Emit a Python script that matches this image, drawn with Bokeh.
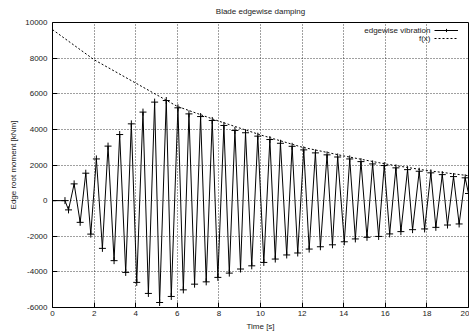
from bokeh.plotting import figure
from bokeh.models import Legend, LegendItem, Label, Title
from bokeh.embed import file_html
from bokeh.resources import INLINE
from bokeh.core.properties import value

FONT = "Liberation Sans"

# edgewise vibration: read extremes (time [s], moment [kNm])
time_s = [0.00, 0.60, 0.77, 1.04, 1.33, 1.60, 1.84, 2.11, 2.40, 2.67,
          2.96, 3.23, 3.52, 3.79, 4.05, 4.35, 4.61, 4.91, 5.15, 5.47,
          5.71, 6.03, 6.29, 6.56, 6.83, 7.12, 7.39, 7.68, 7.95, 8.24,
          8.50, 8.77, 9.04, 9.28, 9.58, 9.87, 10.16, 10.45, 10.71, 10.96,
          11.26, 11.52, 11.79, 12.08, 12.34, 12.64, 12.88, 13.20, 13.46, 13.71,
          14.03, 14.29, 14.56, 14.83, 15.12, 15.39, 15.68, 15.95, 16.21, 16.51,
          16.75, 17.07, 17.31, 17.63, 17.89, 18.19, 18.43, 18.74, 18.99, 19.28,
          19.55, 19.84, 20.00]
moment_knm = [0, 0, -520, 940, -1220, 1540, -1880, 2340, -2680, 3060,
              -3370, 3710, -4030, 4310, -4590, 4970, -5210, 5530, -5720, 5620,
              -5380, 5210, -5010, 4870, -4690, 4720, -4560, 4500, -4310, 4220,
              -4070, 3940, -3840, 3810, -3660, 3620, -3470, 3430, -3280, 3220,
              -3050, 3050, -2940, 2850, -2720, 2680, -2590, 2570, -2480, 2450,
              -2310, 2340, -2150, 2190, -2060, 2060, -2010, 1970, -1870, 1840,
              -1740, 1740, -1630, 1650, -1590, 1560, -1500, 1460, -1370, 1350,
              -1310, 1280, 400]

# f(x) envelope
fx_t = [0, 2, 4, 6, 8, 10, 12, 14, 16, 18, 20]
fx_val = [9600, 7910, 6600, 5290, 4460, 3690, 3000, 2510, 2060, 1690, 1400]

x_ticks = [0, 2, 4, 6, 8, 10, 12, 14, 16, 18, 20]
x_tick_labels = ["0", "2", "4", "6", "8", "10", "12", "14", "16", "18", "20"]
y_ticks = [-6000, -4000, -2000, 0, 2000, 4000, 6000, 8000, 10000]
y_tick_labels = ["-6000", "-4000", "-2000", "0", "2000", "4000", "6000", "8000", "10000"]

title_text = "Blade edgewise damping"
x_label = "Time [s]"
y_label = "Edge root moment [kNm]"
series_names = ["edgewise vibration", "f(x)"]

p = figure(width=469, height=333, x_range=(0, 20), y_range=(-6000, 10000),
           output_backend="svg", toolbar_location=None,
           min_border_left=52, min_border_right=1, min_border_top=22, min_border_bottom=26)

p.background_fill_color = "white"
p.border_fill_color = "white"
p.outline_line_color = "black"
p.outline_line_width = 1

p.title.text = title_text
p.title.align = "center"
p.title.text_font = FONT
p.title.text_font_size = "8px"
p.title.text_font_style = "normal"
p.title.text_color = "#222222"
p.title.standoff = 0
# small empty spacer between the title and the frame
p.add_layout(Title(text=" ", text_font_size="4px", standoff=0), "above")

for ax in (p.xaxis[0], p.yaxis[0]):
    ax.axis_line_color = None
    ax.major_tick_in = 5
    ax.major_tick_out = 0
    ax.minor_tick_line_color = None
    ax.major_tick_line_color = "black"
    ax.major_label_text_font = FONT
    ax.major_label_text_font_size = "8px"
    ax.major_label_text_color = "#222222"
    ax.axis_label_text_font = FONT
    ax.axis_label_text_font_size = "8px"
    ax.axis_label_text_font_style = "normal"
    ax.axis_label_text_color = "#222222"

p.xaxis.ticker = x_ticks
p.xaxis.major_label_overrides = dict(zip(x_ticks, x_tick_labels))
p.yaxis.ticker = y_ticks
p.yaxis.major_label_overrides = dict(zip(y_ticks, y_tick_labels))
p.xaxis.axis_label = x_label
p.yaxis.axis_label = y_label
p.xaxis.major_label_standoff = 3
p.xaxis.axis_label_standoff = 3
p.yaxis.major_label_standoff = 5
p.yaxis.axis_label_standoff = 4

p.grid.grid_line_color = "#000000"
p.grid.grid_line_alpha = 0.75
p.grid.grid_line_dash = "1 2"
p.grid.grid_line_width = 1

l1 = p.line(time_s, moment_knm, line_color="black", line_width=1)
s1 = p.scatter(time_s, moment_knm, marker="cross", size=7, line_color="black", line_width=1)
l2 = p.line(fx_t, fx_val, line_color="black", line_width=1, line_dash="2 2")

legend = Legend(items=[LegendItem(label=value(" "), renderers=[l1, s1]),
                       LegendItem(label=value(" "), renderers=[l2])],
                location="top_right", margin=4, padding=0, spacing=0,
                glyph_width=24, glyph_height=8, label_width=6, label_height=8,
                label_standoff=0, label_text_font_size="1px",
                border_line_color=None, background_fill_alpha=0)
p.add_layout(legend)

p.add_layout(Label(x=378, y=277, x_units="screen", y_units="screen", text=series_names[0],
                   text_align="right", text_baseline="middle", text_font=FONT,
                   text_font_size="8px", text_color="#222222"))
p.add_layout(Label(x=378, y=269, x_units="screen", y_units="screen", text=series_names[1],
                   text_align="right", text_baseline="middle", text_font=FONT,
                   text_font_size="8px", text_color="#222222"))

open("out.html", "w").write(file_html(p, INLINE))
